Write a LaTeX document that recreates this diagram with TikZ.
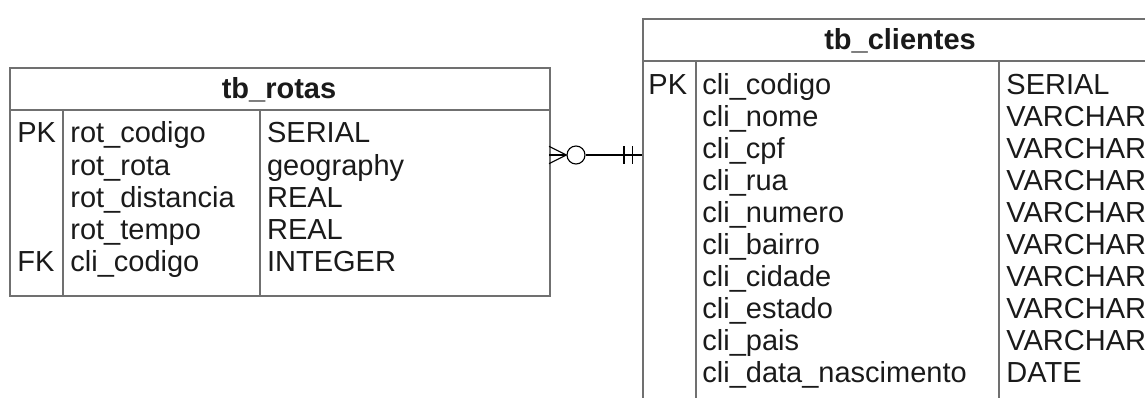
\documentclass[tikz,border=0pt]{standalone}
\usepackage{fontspec}
\setmainfont{Liberation Sans}
\usetikzlibrary{arrows.meta, positioning, calc}
\definecolor{rahmen}{RGB}{112,112,112}
\definecolor{schrift}{RGB}{26,26,26}
\tikzset{
  tabelle/.style={draw=rahmen, line width=0.8pt, inner sep=0pt, anchor=north west},
  linie/.style={draw=rahmen, line width=0.8pt},
  kopf/.style={font=\bfseries\fontsize{14.5}{16}\selectfont, text=schrift, anchor=base, inner sep=0pt},
  feld/.style={font=\fontsize{14.5}{16}\selectfont, text=schrift, anchor=base west, inner sep=0pt},
  rel/.style={line width=0.55pt, black},
}

\begin{document}
\begin{tikzpicture}[x=0.5pt, y=-0.5pt]

            \useasboundingbox (0,0) rectangle (1145,397);

            % Tabelle tb_rotas
            \node[tabelle, minimum width=270pt, minimum height=114pt] (rotas) at (9,67) {};
            \draw[linie] (9,110) -- (549,110);
            \draw[linie] (62.7,110) -- (62.7,295);
            \draw[linie] (260,110) -- (260,295);
            \node[kopf] (rotaskopf) at (279,98) {tb\_rotas};

            % Felder tb_rotas
            \node[feld] (rpk) at (17,142.7) {PK};
            \node[feld] (rfk) at (17,271.7) {FK};
            \node[feld] (rn1) at (70,142.7) {rot\_codigo};     \node[feld] (rt1) at (266.7,142.7) {SERIAL};
            \node[feld] (rn2) at (70,175) {rot\_rota};         \node[feld] (rt2) at (266.7,175) {geography};
            \node[feld] (rn3) at (70,207.2) {rot\_distancia};  \node[feld] (rt3) at (266.7,207.2) {REAL};
            \node[feld] (rn4) at (70,239.5) {rot\_tempo};      \node[feld] (rt4) at (266.7,239.5) {REAL};
            \node[feld] (rn5) at (70,271.7) {cli\_codigo};     \node[feld] (rt5) at (266.7,271.7) {INTEGER};

            % Tabelle tb_clientes (rechts und unten angeschnitten)
            \node[tabelle, minimum width=258pt, minimum height=205pt] (clientes) at (642,18) {};
            \draw[linie] (642,61) -- (1158,61);
            \draw[linie] (696,61) -- (696,428);
            \draw[linie] (999,61) -- (999,428);
            \node[kopf] (clienteskopf) at (900,49) {tb\_clientes};

            % Felder tb_clientes
            \node[feld] (cpk) at (648,94) {PK};
            \node[feld] (cn1) at (702,94) {cli\_codigo};              \node[feld] (ct1) at (1006,94) {SERIAL};
            \node[feld] (cn2) at (702,126) {cli\_nome};               \node[feld] (ct2) at (1006,126) {VARCHAR};
            \node[feld] (cn3) at (702,158) {cli\_cpf};                \node[feld] (ct3) at (1006,158) {VARCHAR};
            \node[feld] (cn4) at (702,190) {cli\_rua};                \node[feld] (ct4) at (1006,190) {VARCHAR};
            \node[feld] (cn5) at (702,222) {cli\_numero};             \node[feld] (ct5) at (1006,222) {VARCHAR};
            \node[feld] (cn6) at (702,254) {cli\_bairro};             \node[feld] (ct6) at (1006,254) {VARCHAR};
            \node[feld] (cn7) at (702,286) {cli\_cidade};             \node[feld] (ct7) at (1006,286) {VARCHAR};
            \node[feld] (cn8) at (702,318) {cli\_estado};             \node[feld] (ct8) at (1006,318) {VARCHAR};
            \node[feld] (cn9) at (702,350) {cli\_pais};               \node[feld] (ct9) at (1006,350) {VARCHAR};
            \node[feld] (cn10) at (702,382) {cli\_data\_nascimento};  \node[feld] (ct10) at (1006,382) {DATE};

            % Beziehung: viele (null oder mehr) zu genau einem
            \coordinate (fuss) at (549,155);
            \coordinate (strich) at (642,155);
            \node[rel, draw, circle, minimum size=9pt, inner sep=0pt] (kreis) at (576,155) {};
            \draw[rel] (549,146.3) -- (kreis.west) -- (549,163.7);
            \draw[rel] (fuss) -- (kreis.west);
            \draw[rel] (kreis) -- (strich);
            \draw[rel] (624,146.3) -- (624,163.7);
            \draw[rel] (632.7,146.3) -- (632.7,163.7);

         \end{tikzpicture}
\end{document}
